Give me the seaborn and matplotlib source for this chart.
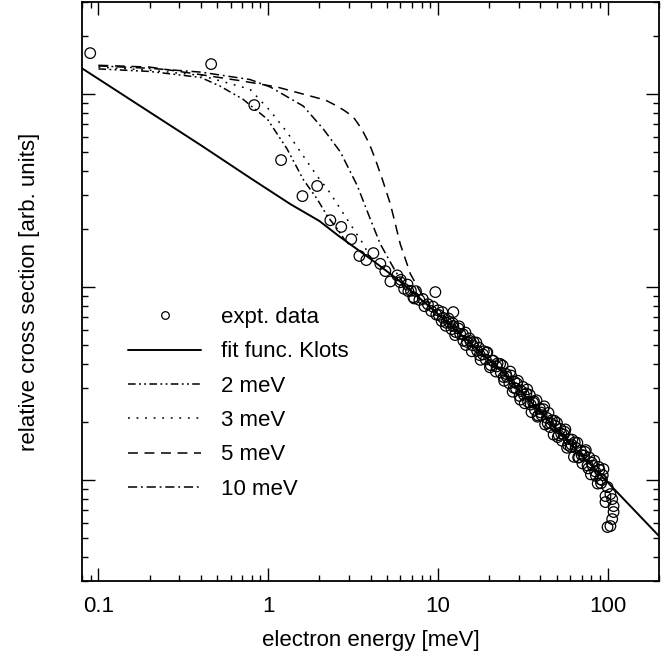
import matplotlib
matplotlib.use("Agg")
import matplotlib.pyplot as plt
import seaborn as sns
import numpy as np
from matplotlib.ticker import LogLocator, NullFormatter, FixedLocator, FixedFormatter
from matplotlib.lines import Line2D

# ---------------- data ----------------
xtick_vals = [0.1, 1, 10, 100]
xtick_labels = ["0.1", "1", "10", "100"]

fit_x = [0.08, 0.2, 0.4, 0.8, 1.35, 2.0, 2.6, 4.0, 5.75, 9.4, 23, 52, 90, 200]
fit_y = [136, 80.7, 54.4, 36.3, 26.9, 22.0, 18.4, 14.0, 11.0, 7.6, 3.76, 1.77, 1.07, 0.513]

c2_x = [0.1, 0.2, 0.4, 0.52, 0.71, 0.99, 1.29, 1.61, 1.94, 2.23, 2.55, 2.84]
c2_y = [135, 131, 122, 110, 94, 74, 52, 36, 28.6, 23.3, 20.0, 17.4]

c3_x = [0.1, 0.2, 0.4, 0.78, 1.03, 1.29, 1.61, 1.94, 2.23, 2.55, 3.04, 3.63, 3.99]
c3_y = [138, 133, 125, 106, 81.6, 63.5, 47.7, 37.6, 32.2, 26.9, 21.2, 16.7, 14.2]

c5_x = [0.1, 0.2, 0.38, 0.71, 1.13, 1.77, 2.17, 2.55, 2.84, 3.17, 3.39, 3.63, 3.94,
        4.27, 4.69, 5.24, 5.99, 6.87, 7.87, 9.0]
c5_y = [141, 138, 127, 116.7, 108.7, 97.7, 93.1, 86.6, 81.6, 76, 69.9, 63.5, 55.1,
        46, 36.3, 26.9, 16.7, 11.7, 9.42, 8.17]

c10_x = [0.1, 0.2, 0.4, 0.78, 1.03, 1.61, 2.11, 2.66, 3.35, 3.99, 4.57, 5.6, 6.42]
c10_y = [140, 136, 130, 119, 108.7, 86.6, 65.9, 50.1, 33.4, 22.5, 16.7, 12.1, 10.1]

exp_x = [0.0894, 0.461, 0.827, 1.19, 1.59, 1.94, 2.32, 2.69, 3.08, 3.44, 3.78, 4.16,
         4.57, 4.89, 5.24, 5.75, 5.99, 6.68, 7.15, 9.64, 12.3,
         6.03, 6.31, 6.61, 6.92, 7.24, 7.41, 7.76, 8.13, 8.32, 8.71, 9.12, 9.33,
         9.77, 10.0, 10.5, 10.7, 11.2, 11.5, 12.0, 12.3, 12.6, 13.2, 13.5, 14.1, 14.5, 14.8,
         15.5, 15.8, 16.2, 17.0, 17.4, 17.8, 18.6, 19.1, 19.5, 20.4, 20.9, 21.9, 22.4,
         23.4, 24.0, 24.5, 25.1, 26.3, 26.9, 27.5, 28.2, 28.8, 29.5, 30.2, 30.9, 31.6,
         32.4, 33.1, 33.9, 34.7, 35.5, 36.3, 37.2, 38.0, 38.9, 39.8, 40.7, 41.7, 42.7,
         43.7, 44.7, 45.7, 46.8, 47.9, 49.0, 50.1, 51.3,
         52.5, 53.7, 55.0, 56.2, 57.5, 58.9, 60.3, 61.7, 63.1, 64.6, 66.1, 67.6, 69.2,
         70.8, 72.4, 74.1, 75.9, 77.6, 79.4, 81.3, 83.2, 85.1, 87.1, 89.1, 91.2, 93.3,
         10.1, 10.6, 11.1, 11.6, 12.2, 12.7, 13.3, 14.0, 14.6, 15.3, 16.0, 16.8, 17.6,
         18.4, 19.3, 20.2, 21.1, 22.1, 23.2, 24.3, 25.4, 26.6, 27.9, 29.2, 30.5, 32.0,
         33.5, 35.1, 36.7, 38.5, 40.3, 42.2, 44.2, 46.2, 48.4, 50.7, 53.1, 55.6, 58.2,
         61.0, 63.8, 66.8, 70.0, 73.3, 76.7, 80.4, 84.1, 88.1, 92.3,
         96.8, 103.5, 106, 108, 108, 106, 103.5, 99.5, 96.8, 99.5, 90.4, 94.2]
exp_y = [163, 143, 87.7, 45.5, 29.6, 33.4, 22.2, 20.5, 17.7, 14.5, 13.8, 15.0,
         13.2, 12.1, 10.7, 11.5, 10.6, 9.53, 8.87, 9.42, 7.42,
         10.9, 9.8, 10.3, 9.57, 8.73, 9.52, 8.58, 8.68, 7.96, 8.15, 7.52, 7.92,
         7.20, 7.58, 6.67, 6.93, 6.53, 6.88, 6.05, 6.29, 5.64, 6.10, 5.72, 5.27, 5.81, 5.20,
         5.25, 4.65, 5.18, 4.67, 4.85, 4.20, 4.65, 4.21, 4.59, 3.94, 4.15, 3.65, 4.02,
         3.61, 3.92, 3.27, 3.55, 3.17, 3.48, 2.87, 3.23, 2.98, 3.27, 2.73, 2.89, 3.04,
         2.50, 2.81, 2.54, 2.76, 2.25, 2.52, 2.31, 2.59, 2.16, 2.34, 2.17, 2.33, 1.94,
         2.10, 2.23, 1.88, 2.04, 1.72, 1.91, 1.98, 1.71,
         1.84, 1.60, 1.72, 1.83, 1.47, 1.63, 1.49, 1.62, 1.32, 1.47, 1.56, 1.31, 1.42,
         1.22, 1.34, 1.43, 1.19, 1.31, 1.07, 1.19, 1.26, 1.05, 0.959, 1.13, 0.963, 1.06,
         7.17, 7.42, 6.30, 6.59, 6.50, 5.85, 6.26, 5.70, 5.01, 5.42, 4.99, 5.16, 4.44,
         4.48, 4.58, 3.84, 4.16, 3.88, 4.00, 3.42, 3.43, 3.65, 3.01, 3.16, 2.61, 2.77,
         2.95, 2.46, 2.56, 2.13, 2.24, 2.41, 1.97, 1.97, 2.03, 1.67, 1.74, 1.78, 1.52,
         1.53, 1.57, 1.31, 1.35, 1.40, 1.15, 1.23, 1.11, 1.17, 1.00,
         0.826, 0.846, 0.797, 0.733, 0.683, 0.628, 0.578, 0.571, 0.769, 0.92, 1.01, 1.14]

legend_labels = ["expt. data", "fit func. Klots", "2 meV", "3 meV", "5 meV", "10 meV"]

# ---------------- style ----------------
sns.set_theme(style="ticks")
plt.rcParams["font.family"] = ["Liberation Sans", "DejaVu Sans"]
plt.rcParams["axes.linewidth"] = 1.3

FS = 16
fig = plt.figure(figsize=(6.66, 6.62), dpi=100)
ax = fig.add_axes([82 / 666, 1 - 581 / 662, 577 / 666, 579 / 662])

lw = 1.1
ls2 = (0, (5, 2.2, 1.2, 2.2, 1.2, 2.2))
ls3 = (0, (1.2, 4.4))
ls5 = (0, (6.5, 4.3))
ls10 = (0, (6, 2.5, 1.2, 2.5))

sns.scatterplot(x=exp_x, y=exp_y, ax=ax, marker="o", s=58, linewidth=0.9,
                facecolor="none", edgecolor="black", legend=False, zorder=3)
sns.lineplot(x=fit_x, y=fit_y, ax=ax, color="black", lw=1.4, estimator=None, sort=False)
sns.lineplot(x=c2_x, y=c2_y, ax=ax, color="black", lw=lw, estimator=None, sort=False, linestyle=ls2)
sns.lineplot(x=c3_x, y=c3_y, ax=ax, color="black", lw=lw, estimator=None, sort=False, linestyle=ls3)
sns.lineplot(x=c5_x, y=c5_y, ax=ax, color="black", lw=lw, estimator=None, sort=False, linestyle=ls5)
sns.lineplot(x=c10_x, y=c10_y, ax=ax, color="black", lw=lw, estimator=None, sort=False, linestyle=ls10)

ax.set_xscale("log")
ax.set_yscale("log")
ax.set_xlim(0.08, 200)
ax.set_ylim(0.3, 300)

ax.xaxis.set_major_locator(FixedLocator(xtick_vals))
ax.xaxis.set_major_formatter(FixedFormatter(xtick_labels))
ax.xaxis.set_minor_locator(LogLocator(base=10, subs=np.arange(2, 10), numticks=20))
ax.xaxis.set_minor_formatter(NullFormatter())
ax.yaxis.set_major_locator(LogLocator(base=10, numticks=10))
ax.yaxis.set_minor_locator(LogLocator(base=10, subs=np.arange(2, 10), numticks=20))
ax.yaxis.set_major_formatter(NullFormatter())
ax.yaxis.set_minor_formatter(NullFormatter())

ax.tick_params(which="both", direction="in", top=True, right=True, colors="black",
               labelsize=FS, width=1.0)
ax.tick_params(which="major", length=9.5, pad=11)
ax.tick_params(which="minor", length=4.5)
ax.tick_params(axis="y", labelleft=False)
for s in ax.spines.values():
    s.set_color("black")

ax.set_xlabel("electron energy [meV]", fontsize=FS, color="black", labelpad=9)
ax.set_ylabel("relative cross section [arb. units]", fontsize=FS, color="black", labelpad=27)

handles = [
    Line2D([], [], marker="o", ls="none", mfc="none", mec="black", ms=5.5, mew=0.9),
    Line2D([], [], color="black", lw=1.4),
    Line2D([], [], color="black", lw=lw, ls=ls2),
    Line2D([], [], color="black", lw=lw, ls=ls3),
    Line2D([], [], color="black", lw=lw, ls=ls5),
    Line2D([], [], color="black", lw=lw, ls=ls10),
]
leg = ax.legend(handles, legend_labels, loc="upper left", bbox_to_anchor=(0.08, 0.473),
                frameon=False, fontsize=FS, handlelength=3.3, handletextpad=0.9,
                labelspacing=0.6, borderpad=0, borderaxespad=0)
for t in leg.get_texts():
    t.set_color("black")

fig.savefig("out.png", dpi=100, facecolor="white")
